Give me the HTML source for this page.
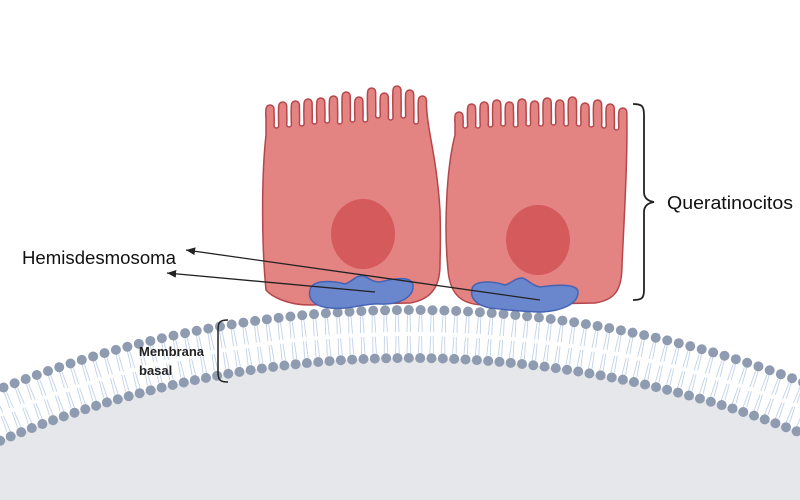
<!DOCTYPE html>
<html><head><meta charset="utf-8"><style>
html,body{margin:0;padding:0;background:#fff;width:800px;height:500px;overflow:hidden}
svg{display:block;overflow:hidden}
</style></head><body>
<svg id="s" width="800" height="500" viewBox="0 0 800 500" xmlns="http://www.w3.org/2000/svg">
<defs>
<marker id="ar" markerWidth="8" markerHeight="8" refX="7" refY="4" orient="auto"><path d="M0,1 L7,4 L0,7 z" fill="#222"/></marker>
<clipPath id="cp"><rect x="0" y="0" width="800" height="500"/></clipPath>
</defs>
<g clip-path="url(#cp)">
<path d="M-300,500 L-300,480 A1056,1056 0 0 1 1100,480 L1100,500 Z" fill="none"/>
<circle cx="410" cy="1414" r="1056" fill="#e6e7ea"/>
<g id="mem"></g>
</g>
<path id="c1" fill="#e38382" stroke="#b5464b" stroke-width="1.5"/>
<path id="c2" fill="#e38382" stroke="#b5464b" stroke-width="1.5"/>
<ellipse cx="363" cy="234" rx="32" ry="35" fill="#d55a5c"/>
<ellipse cx="538" cy="240" rx="32" ry="35" fill="#d55a5c"/>
<path d="M310,290 C312,280 330,280 345,284 C352,282 356,275 362,276 C368,276 370,282 380,282 C395,278 412,276 413,285 C414,298 398,305 380,304 C365,303 350,310 330,308 C312,306 308,298 310,290 Z" fill="#6a86cc" stroke="#4563b5" stroke-width="1.5"/>
<path d="M472,290 C472,281 490,280 505,285 C512,283 515,278 522,278 C528,279 530,285 540,287 C555,285 578,283 578,292 C578,305 560,311 542,312 C525,312 508,310 490,308 C476,305 470,298 472,290 Z" fill="#6a86cc" stroke="#4563b5" stroke-width="1.5"/>
<line x1="375" y1="292" x2="167" y2="273" stroke="#222" stroke-width="1.3" marker-end="url(#ar)"/>
<line x1="540" y1="300" x2="186" y2="250" stroke="#222" stroke-width="1.3" marker-end="url(#ar)"/>
<text x="22" y="264" font-family="Liberation Sans, sans-serif" font-size="18" fill="#111" textLength="154" lengthAdjust="spacingAndGlyphs">Hemisdesmosoma</text>
<text x="667" y="209" font-family="Liberation Sans, sans-serif" font-size="18" fill="#111" textLength="126" lengthAdjust="spacingAndGlyphs">Queratinocitos</text>
<path d="M633,104 C642,104 644,106 644,115 L644,192 C644,198 648,201 654,202 C648,203 644,206 644,212 L644,290 C644,298 642,300 633,300" fill="none" stroke="#222" stroke-width="1.8"/>
<path d="M228,320 C220,320 218,322 218,330 L218,372 C218,380 220,382 228,382" fill="none" stroke="#222" stroke-width="1.5"/>
<text x="139" y="356" font-family="Liberation Sans, sans-serif" font-size="13" font-weight="bold" fill="#222">Membrana</text>
<text x="139" y="375" font-family="Liberation Sans, sans-serif" font-size="13" font-weight="bold" fill="#222">basal</text>
</svg>
<script>
(function(){
var g=document.getElementById('mem'),cx=410,cy=1414,Ro=1104,Ri=1056,h='';
var step=11.6/1080;
for(var a=-0.42;a<=0.42;a+=step){
 var s=Math.sin(a),c=Math.cos(a);
 var ox=cx+Ro*s,oy=cy-Ro*c,ix=cx+Ri*s,iy=cy-Ri*c;
 var r1=Ro-5,r2=Ro-22,r3=Ri+22,r4=Ri+5;
 [[r1,r2],[r3,r4]].forEach(function(p){
  h+='<line x1="'+(cx+p[0]*s-1.2)+'" y1="'+(cy-p[0]*c)+'" x2="'+(cx+p[1]*s-1.8)+'" y2="'+(cy-p[1]*c)+'" stroke="#c3d2e8" stroke-width="0.9"/>';
  h+='<line x1="'+(cx+p[0]*s+1.2)+'" y1="'+(cy-p[0]*c)+'" x2="'+(cx+p[1]*s+1.8)+'" y2="'+(cy-p[1]*c)+'" stroke="#c3d2e8" stroke-width="0.9"/>';
 });
 h+='<circle cx="'+ox+'" cy="'+oy+'" r="5" fill="#8e9bb0"/>';
 h+='<circle cx="'+ix+'" cy="'+iy+'" r="5" fill="#8e9bb0"/>';
}
g.innerHTML=h;
// villi: w = width, gap = gap width
function villi(x0,tips,bases,w,gap){
 var d='',x=x0;
 for(var i=0;i<tips.length;i++){
  var t=tips[i],r=w/2;
  d+=' C'+(x-0.5)+','+(t+10)+' '+x+','+(t+r)+' '+x+','+(t+r);
  d+=' A'+r+','+r+' 0 0 1 '+(x+w)+','+(t+r);
  if(i<tips.length-1){
   var b=bases[i],gr=gap/2;
   d+=' C'+(x+w)+','+(t+r+6)+' '+(x+w+0.5)+','+(b-gr-4)+' '+(x+w)+','+(b-gr);
   d+=' A'+gr+','+gr+' 0 0 0 '+(x+w+gap)+','+(b-gr);
  }
  x+=w+gap;
 }
 return {d:d,end:x-gap};
}
var v1=villi(266,[105,102,101,99,98,96,92,97,88,93,86,90,96],[128,127,126,124,123,124,122,122,118,120,118,124],8,4.7);
document.getElementById('c1').setAttribute('d','M266,290 C262,250 261,180 266,135 L266,118'+v1.d+' C'+(v1.end)+',130 436,150 440,210 C441,240 440,255 440,265 C440,290 428,300 410,303 L310,305 C285,305 270,295 266,290 Z');
var v2=villi(455,[112,104,102,100,102,99,101,98,100,97,103,100,104,108],[128,128,127,126,127,126,126,125,126,126,127,128,130],8,4.6);
document.getElementById('c2').setAttribute('d','M448,270 C444,230 446,170 455,135 L455,122'+v2.d+' C'+(v2.end+1)+',160 624,220 622,265 C622,290 615,300 595,303 L485,305 C462,305 450,295 448,270 Z');
})();
</script>
</body></html>
